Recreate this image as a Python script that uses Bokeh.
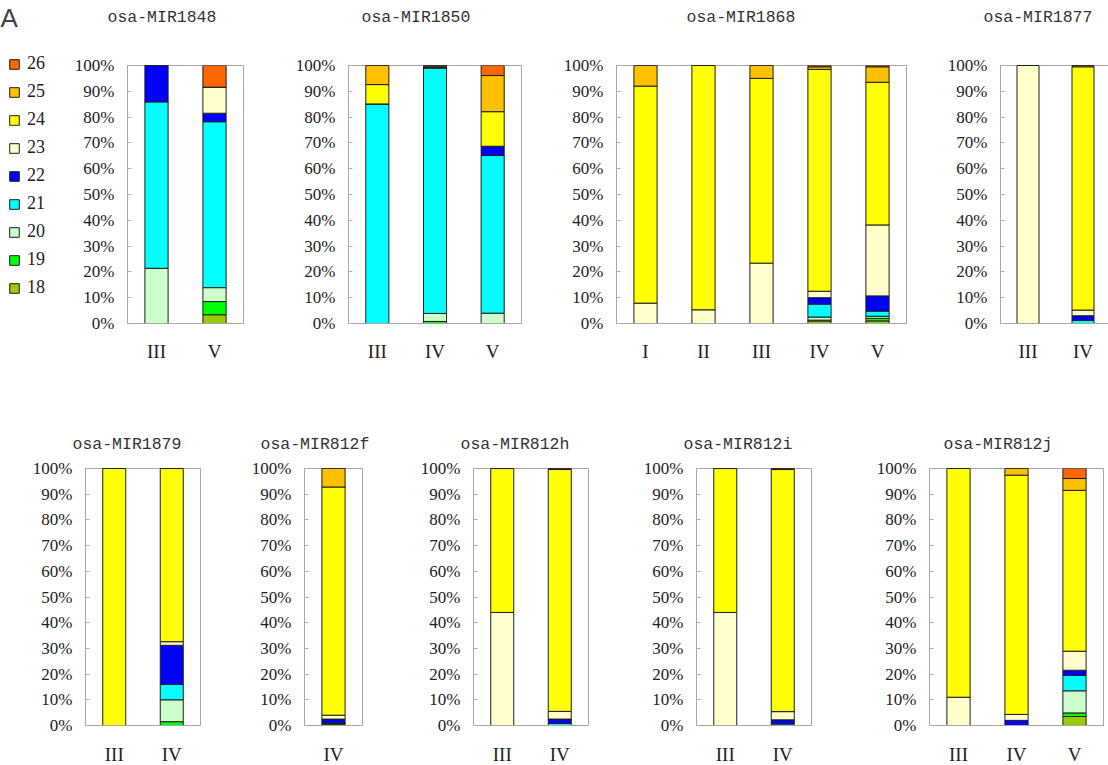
from bokeh.plotting import figure
from bokeh.layouts import column, row
from bokeh.models import (ColumnDataSource, FactorRange, Range1d, FixedTicker,
                          PrintfTickFormatter, Legend, LegendItem, Title)
from bokeh.embed import file_html
from bokeh.resources import INLINE

# ---------------- data ----------------
SIZES = ["18", "19", "20", "21", "22", "23", "24", "25", "26"]
COLORS = ["#99CC00", "#00FF00", "#CCFFCC", "#00FFFF", "#0000FF",
          "#FFFFCC", "#FFFF00", "#FFC000", "#FF6600"]
Y_TICKS = [0, 10, 20, 30, 40, 50, 60, 70, 80, 90, 100]

# each table: one row per small-RNA size (18..26), one column per stage (percent)
MIR1848_STAGES = ["III", "V"]
MIR1848 = [[0, 3.4], [0, 5.1], [21.4, 5.4], [64.5, 64.3], [14.1, 3.3],
           [0, 10.1], [0, 0], [0, 0], [0, 8.4]]

MIR1850_STAGES = ["III", "IV", "V"]
MIR1850 = [[0, 0, 0], [0, 0.8, 0], [0, 3.1, 4], [85.1, 95.1, 61.1], [0, 0.5, 3.6],
           [0, 0, 0], [7.5, 0, 13.4], [7.4, 0.5, 14], [0, 0, 3.9]]

MIR1868_STAGES = ["I", "II", "III", "IV", "V"]
MIR1868 = [[0, 0, 0, 1, 1], [0, 0, 0, 0.3, 1], [0, 0, 0, 1.2, 0.8],
           [0, 0, 0, 5, 2], [0, 0, 0, 2.5, 5.9], [7.9, 5.3, 23.4, 2.5, 27.5],
           [84.1, 94.7, 71.6, 86, 55.3], [8, 0, 5, 1, 6], [0, 0, 0, 0.5, 0.5]]

MIR1877_STAGES = ["III", "IV"]
MIR1877 = [[0, 0], [0, 0], [0, 0], [0, 1.2], [0, 1.8], [100, 2.2],
           [0, 94.3], [0, 0.5], [0, 0]]

MIR1879_STAGES = ["III", "IV"]
MIR1879 = [[0, 0], [0, 1.5], [0, 8.5], [0, 6], [0, 15.2], [0, 1.4],
           [100, 67.4], [0, 0], [0, 0]]

MIR812F_STAGES = ["IV"]
MIR812F = [[0.5], [0.5], [0], [0], [1.5], [1.5], [88.8], [7.2], [0]]

MIR812H_STAGES = ["III", "IV"]
MIR812H = [[0, 0], [0, 0], [0, 0], [0, 0.8], [0, 1.7], [44, 3],
           [56, 94.1], [0, 0.4], [0, 0]]

MIR812I_STAGES = ["III", "IV"]
MIR812I = [[0, 0], [0, 0], [0, 0], [0, 0.6], [0, 1.6], [44, 3.2],
           [56, 94.2], [0, 0.4], [0, 0]]

MIR812J_STAGES = ["III", "IV", "V"]
MIR812J = [[0, 0, 3.5], [0, 0, 1.4], [0, 0, 8.6], [0, 0, 6], [0, 2, 2],
           [11, 2.3, 7.4], [89, 93.1, 62.6], [0, 2.6, 4.6], [0, 0, 3.9]]

SERIF = "Liberation Serif"
MONO = "Liberation Mono"


def stack_source(stages, table):
    data = {"stage": stages}
    for s, vals in zip(SIZES, table):
        data["s" + s] = vals
    return ColumnDataSource(data)


def spacer_title(gap):
    # blank title used only to keep the real title away from the frame
    return Title(text=" ", text_font_size="1px", standoff=gap)


def panel(name, stages, table, left, frame_w, right, top, frame_h, bottom,
          title_gap, title_offset, x_standoff):
    p = figure(x_range=FactorRange(*stages), y_range=Range1d(0, 100),
               frame_width=frame_w, frame_height=frame_h,
               min_border_left=left, min_border_right=right,
               min_border_top=top, min_border_bottom=bottom,
               output_backend="svg", toolbar_location=None, title=name)
    src = stack_source(stages, table)
    p.vbar_stack(["s" + s for s in SIZES], x="stage", width=0.4,
                 source=src, fill_color=COLORS,
                 line_color="#1e1e1e", line_width=1)
    p.title.text_font = MONO
    p.title.text_font_size = "16.5px"
    p.title.text_font_style = "normal"
    p.title.text_color = "#333333"
    p.title.align = "left"
    p.title.offset = title_offset
    p.title.standoff = 0
    p.add_layout(spacer_title(title_gap), "above")

    p.xgrid.visible = False
    p.ygrid.visible = False
    p.outline_line_color = "#A8A8A8"
    p.outline_line_width = 1
    p.background_fill_color = "white"
    p.border_fill_color = "white"

    ya = p.yaxis[0]
    ya.ticker = FixedTicker(ticks=Y_TICKS)
    ya.formatter = PrintfTickFormatter(format="%d%%")
    ya.major_label_text_font = SERIF
    ya.major_label_text_font_size = "17px"
    ya.major_label_text_color = "#222222"
    ya.major_tick_in = 4
    ya.major_tick_out = 0
    ya.minor_tick_line_color = None
    ya.major_tick_line_color = "#B0B0B0"
    ya.axis_line_color = "#A8A8A8"
    ya.major_label_standoff = 13

    xa = p.xaxis[0]
    xa.major_label_text_font = SERIF
    xa.major_label_text_font_size = "19px"
    xa.major_label_text_color = "#222222"
    xa.major_tick_line_color = None
    xa.axis_line_color = "#A8A8A8"
    xa.major_label_standoff = x_standoff
    return p


# ---------------- top row ----------------
T_TOP, T_FH, T_BOT = 65, 258, 57
T_H = T_TOP + T_FH + T_BOT

# legend panel (sizes, 26 on top) with the panel letter as its title
L_TOP, L_FH = 51, 245
pl = figure(x_range=FactorRange(*MIR1848_STAGES), y_range=Range1d(0, 100),
            frame_width=57, frame_height=L_FH,
            min_border_left=8, min_border_right=0,
            min_border_top=L_TOP, min_border_bottom=T_H - L_TOP - L_FH,
            x_axis_location=None, y_axis_location=None, title="A",
            output_backend="svg", toolbar_location=None)
pl.title.text_font = "Liberation Sans"
pl.title.text_font_size = "26px"
pl.title.text_font_style = "normal"
pl.title.align = "left"
pl.title.offset = -8
pl.title.standoff = 0
pl.add_layout(spacer_title(18), "above")
pl.xgrid.visible = False
pl.ygrid.visible = False
pl.outline_line_color = None
lrs = pl.vbar_stack(["s" + s for s in SIZES], x="stage", width=0.4,
                    source=stack_source(MIR1848_STAGES, MIR1848),
                    fill_color=COLORS, line_color="#1e1e1e", line_width=1)
for r in lrs:
    r.visible = False
items = [LegendItem(label=s, renderers=[r]) for s, r in zip(SIZES, lrs)][::-1]
legend = Legend(items=items, location="top_left", click_policy="none",
                label_text_font=SERIF, label_text_font_size="18px",
                label_text_color="#222222",
                glyph_width=12, glyph_height=12, label_height=21,
                label_standoff=7, spacing=7, padding=0, margin=0,
                border_line_alpha=0, background_fill_alpha=0)
pl.add_layout(legend)

p1 = panel("osa-MIR1848", MIR1848_STAGES, MIR1848, 62, 116, 49,
           T_TOP, T_FH, T_BOT, 36, -20, 11)
p2 = panel("osa-MIR1850", MIR1850_STAGES, MIR1850, 56, 173, 39,
           T_TOP, T_FH, T_BOT, 36, 13, 11)
p3 = panel("osa-MIR1868", MIR1868_STAGES, MIR1868, 53, 290, 37,
           T_TOP, T_FH, T_BOT, 36, 70, 11)
p4 = panel("osa-MIR1877", MIR1877_STAGES, MIR1877, 57, 110, 0,
           T_TOP, T_FH, T_BOT, 36, -17, 11)

# ---------------- bottom row ----------------
B_TOP, B_FH, B_BOT = 86, 257, 41
p5 = panel("osa-MIR1879", MIR1879_STAGES, MIR1879, 85, 115, 48,
           B_TOP, B_FH, B_BOT, 12, -13, 12)
p6 = panel("osa-MIR812f", MIR812F_STAGES, MIR812F, 54, 58, 55,
           B_TOP, B_FH, B_BOT, 12, -44, 12)
p7 = panel("osa-MIR812h", MIR812H_STAGES, MIR812H, 54, 115, 52,
           B_TOP, B_FH, B_BOT, 12, -13, 12)
p8 = panel("osa-MIR812i", MIR812I_STAGES, MIR812I, 54, 115, 61,
           B_TOP, B_FH, B_BOT, 12, -13, 12)
p9 = panel("osa-MIR812j", MIR812J_STAGES, MIR812J, 57, 174, 10,
           B_TOP, B_FH, B_BOT, 12, 14, 12)

top_charts = row(p1, p2, p3, p4)
layout = column(row(pl, top_charts), row(p5, p6, p7, p8, p9))

with open("out.html", "w") as f:
    f.write(file_html(layout, INLINE))
